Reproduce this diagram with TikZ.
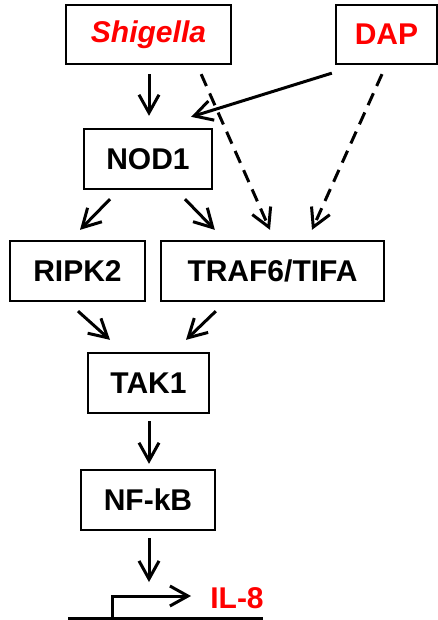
\documentclass[tikz,border=0pt]{standalone}
\usepackage{fontspec}
\setmainfont{Liberation Sans}
\usetikzlibrary{arrows.meta}
\definecolor{pathred}{RGB}{255,0,0}
\tikzset{
  box/.style={draw=black, line width=2.3pt, fill=white, inner sep=0pt,
    font=\fontsize{30}{36}\selectfont\bfseries},
  act/.style={line width=3pt, -{Straight Barb[length=18pt,width=20pt,line width=3pt]}},
  dashact/.style={act, dash pattern=on 13pt off 8pt},
  plain/.style={line width=3pt}
}
\begin{document}
\begin{tikzpicture}[x=1pt,y=-1pt]
\useasboundingbox (0,0) rectangle (438,620);
% nodes
\node[box, minimum width=165pt, minimum height=59pt] (shig) at (148.5,34.5) {\textcolor{pathred}{\itshape Shigella}};
\node[box, minimum width=101pt, minimum height=59pt] (dap) at (386.5,34.5) {\textcolor{pathred}{DAP}};
\node[box, minimum width=128pt, minimum height=60pt] (nod) at (148,159) {NOD1};
\node[box, minimum width=135pt, minimum height=60pt] (ripk) at (77.5,271) {RIPK2};
\node[box, minimum width=223pt, minimum height=60pt] (traf) at (272.5,271) {TRAF6/TIFA};
\node[box, minimum width=121pt, minimum height=60pt] (tak) at (148.5,383) {TAK1};
\node[box, minimum width=134pt, minimum height=60pt] (nfkb) at (148,500) {NF-kB};
\node[font=\fontsize{30}{36}\selectfont\bfseries, text=pathred, inner sep=0pt] (il8) at (237,598) {IL-8};
% promoter
\coordinate (tss) at (149,582);
\coordinate (gl) at (68,618.5);
\coordinate (gr) at (263,618.5);
\coordinate (pb) at (112,618.5);
\coordinate (pt) at (112,596);
\coordinate (pe) at (191,596);
\draw[plain] (gl) -- (gr);
\draw[act] (pb) -- (pt) -- (pe);
% connectors
\draw[act] ([xshift=0.5pt,yshift=-9pt]shig.south) -- ([xshift=1pt,yshift=12pt]nod.north);
\draw[dashact] ([xshift=-31pt,yshift=-9pt]shig.south east) -- ([xshift=-2.5pt,yshift=10pt]traf.north);
\draw[act] ([xshift=-3pt,yshift=-8pt]dap.south west) -- ([xshift=-22pt,yshift=11pt]nod.north east);
\draw[dashact] ([xshift=-4.5pt,yshift=-9pt]dap.south) -- ([xshift=39.5pt,yshift=10pt]traf.north);
\draw[act] ([xshift=-38pt,yshift=-9pt]nod.south) -- ([xshift=2.5pt,yshift=10pt]ripk.north);
\draw[act] ([xshift=37pt,yshift=-9pt]nod.south) -- ([xshift=55pt,yshift=10pt]traf.north west);
\draw[act] ([xshift=0.5pt,yshift=-9pt]ripk.south) -- ([xshift=-38.5pt,yshift=12pt]tak.north);
\draw[act] ([xshift=56pt,yshift=-9pt]traf.south west) -- ([xshift=37.5pt,yshift=12pt]tak.north);
\draw[act] ([xshift=0.5pt,yshift=-7pt]tak.south) -- ([xshift=1pt,yshift=5pt]nfkb.north);
\draw[act] ([xshift=1pt,yshift=-7pt]nfkb.south) -- (tss);
\end{tikzpicture}
\end{document}
